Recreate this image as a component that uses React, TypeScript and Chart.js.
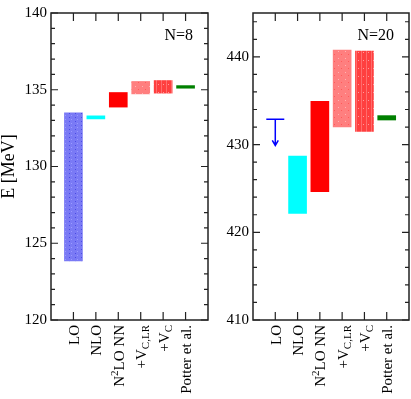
import React, { useEffect, useRef } from 'react';
import { Chart, registerables } from 'chart.js';

Chart.register(...registerables);

const FAMILY = '"Liberation Serif", "Times New Roman", "DejaVu Serif", serif';

// categories (x)
const categories = ['LO', 'NLO', 'N2LO NN', '+VC,LR', '+VC', 'Potter et al.'];
// rich text pieces for the rotated category labels
const labelParts: { t: string; sup?: boolean; sub?: boolean }[][] = [
  [{ t: 'LO' }],
  [{ t: 'NLO' }],
  [{ t: 'N' }, { t: '2', sup: true }, { t: 'LO NN' }],
  [{ t: '+V' }, { t: 'C,LR', sub: true }],
  [{ t: '+V' }, { t: 'C', sub: true }],
  [{ t: 'Potter et al.' }],
];

// N=8 panel (MeV)
const n8Low = [123.85, 133.1, 133.87, 134.73, 134.78, 135.1];
const n8High = [133.5, 133.3, 134.82, 135.54, 135.6, 135.27];
const n8Ticks = [120, 125, 130, 135, 140];

// N=20 panel (MeV)
const n20Low = [null, 422.15, 424.63, 432.0, 431.5, 432.8];
const n20High = [null, 428.7, 434.93, 440.76, 440.65, 433.3];
const n20LoUpperLimit = 432.9;
const n20LoArrowTip = 429.9;
const n20Ticks = [410, 420, 430, 440];

function makePattern(base: string, w: number, h: number, marks: [number, number, string, number?, number?][]) {
  const c = document.createElement('canvas');
  c.width = w;
  c.height = h;
  const g = c.getContext('2d')!;
  g.fillStyle = base;
  g.fillRect(0, 0, w, h);
  marks.forEach(([x, y, col, ww, hh]) => {
    g.fillStyle = col;
    g.fillRect(x, y, ww ?? 1, hh ?? 1);
  });
  return g.createPattern(c, 'repeat')!;
}

function barColors() {
  const blue = makePattern('#7a7af5', 6, 4, [
    [3, 1, '#4a4ae6'],
    [5, 3, '#9a9aff'],
  ]);
  const lightRed = makePattern('#ff7f7f', 7, 7, [
    [2, 2, '#ffb4b4'],
    [5, 5, '#ff5a5a'],
  ]);
  const stripeRed = makePattern('#ff3f3f', 5, 8, [
    [1, 0, '#ff6c6c', 1, 8],
    [3, 4, '#ff9a9a'],
  ]);
  return [blue, '#00ffff', '#ff0000', lightRed, stripeRed, '#008000'];
}

type PanelCfg = {
  low: (number | null)[];
  high: (number | null)[];
  min: number;
  max: number;
  majors: number[];
  minorStep: number;
  yWidth: number;
  label: string;
  title?: string;
  arrow?: { limit: number; tip: number };
};

function makeDecor(cfg: PanelCfg) {
  return {
    id: 'decor',
    afterDatasetsDraw(chart: any) {
      if (!cfg.arrow) return;
      const { ctx, scales } = chart;
      const x = scales.x.getPixelForValue(1);
      const y0 = scales.y.getPixelForValue(cfg.arrow.limit);
      const y1 = scales.y.getPixelForValue(cfg.arrow.tip);
      ctx.save();
      ctx.strokeStyle = '#0000ff';
      ctx.lineWidth = 1.5;
      ctx.beginPath();
      ctx.moveTo(x - 9, y0);
      ctx.lineTo(x + 9, y0);
      ctx.moveTo(x, y0);
      ctx.lineTo(x, y1);
      ctx.moveTo(x - 3, y1 - 5);
      ctx.lineTo(x, y1);
      ctx.lineTo(x + 3, y1 - 5);
      ctx.stroke();
      ctx.restore();
    },
    afterDraw(chart: any) {
      const { ctx, chartArea: a, scales } = chart;
      const xs = scales.x;
      const ys = scales.y;
      ctx.save();
      // frame
      ctx.strokeStyle = '#222';
      ctx.lineWidth = 1.5;
      ctx.strokeRect(a.left, a.top, a.right - a.left, a.bottom - a.top);
      // ticks
      ctx.lineWidth = 1.2;
      ctx.beginPath();
      const n = Math.floor((cfg.max - cfg.min) / cfg.minorStep + 1e-9);
      for (let k = 0; k <= n; k++) {
        const v = cfg.min + k * cfg.minorStep;
        const y = ys.getPixelForValue(v);
        const L = cfg.majors.includes(v) ? 7 : 4;
        ctx.moveTo(a.left, y);
        ctx.lineTo(a.left + L, y);
        ctx.moveTo(a.right, y);
        ctx.lineTo(a.right - L, y);
      }
      categories.forEach((_, i) => {
        const x = xs.getPixelForValue(i + 1);
        ctx.moveTo(x, a.bottom);
        ctx.lineTo(x, a.bottom - 8);
        ctx.moveTo(x, a.top);
        ctx.lineTo(x, a.top + 8);
      });
      ctx.stroke();

      // category labels (rotated)
      ctx.fillStyle = '#000';
      labelParts.forEach((parts, i) => {
        const x = xs.getPixelForValue(i + 1);
        ctx.save();
        ctx.translate(x, a.bottom + 5);
        ctx.rotate(-Math.PI / 2);
        let total = 0;
        const widths = parts.map((p) => {
          ctx.font = `${p.sub || p.sup ? 11 : 15}px ${FAMILY}`;
          const w = ctx.measureText(p.t).width;
          total += w;
          return w;
        });
        let cx = -total;
        ctx.textAlign = 'left';
        ctx.textBaseline = 'alphabetic';
        parts.forEach((p, j) => {
          ctx.font = `${p.sub || p.sup ? 11 : 15}px ${FAMILY}`;
          const dy = p.sup ? -6 : p.sub ? 3 : 0;
          ctx.fillText(p.t, cx, 5.5 + dy);
          cx += widths[j];
        });
        ctx.restore();
      });

      // panel label
      ctx.font = `16px ${FAMILY}`;
      ctx.textAlign = 'right';
      ctx.textBaseline = 'alphabetic';
      ctx.fillText(cfg.label, a.right - 15, a.top + 27);

      // y title
      if (cfg.title) {
        ctx.save();
        ctx.translate(9, (a.top + a.bottom) / 2);
        ctx.rotate(-Math.PI / 2);
        ctx.font = `18px ${FAMILY}`;
        ctx.textAlign = 'center';
        ctx.textBaseline = 'middle';
        ctx.fillText(cfg.title, 0, 0);
        ctx.restore();
      }
      ctx.restore();
    },
  };
}

function Panel({ cfg, left, width }: { cfg: PanelCfg; left: number; width: number }) {
  const ref = useRef<HTMLCanvasElement>(null);
  useEffect(() => {
    const colors = barColors();
    const data: any[] = [];
    const bg: any[] = [];
    categories.forEach((_, i) => {
      const lo = cfg.low[i];
      const hi = cfg.high[i];
      if (lo == null || hi == null) return;
      data.push({ x: i + 1, y: [lo, hi] });
      bg.push(colors[i]);
    });
    const chart = new Chart(ref.current!, {
      type: 'bar',
      data: {
        datasets: [
          {
            data,
            backgroundColor: bg,
            borderWidth: 0,
            barThickness: 18,
          } as any,
        ],
      },
      options: {
        animation: false,
        responsive: false,
        layout: { padding: { top: 6, right: 2, left: 0, bottom: 0 } },
        plugins: { legend: { display: false }, tooltip: { enabled: false } },
        scales: {
          x: {
            type: 'linear',
            min: 0,
            max: 7,
            offset: false,
            grid: { display: false, drawTicks: false },
            border: { display: false },
            ticks: { display: false },
            afterFit: (s: any) => {
              s.height = 79;
            },
          },
          y: {
            type: 'linear',
            min: cfg.min,
            max: cfg.max,
            grid: { display: false, drawTicks: false },
            border: { display: false },
            ticks: { color: '#000', padding: 4, font: { size: 15, family: FAMILY } },
            afterBuildTicks: (s: any) => {
              s.ticks = cfg.majors.map((v) => ({ value: v }));
            },
            afterFit: (s: any) => {
              s.width = cfg.yWidth;
            },
          },
        } as any,
      },
      plugins: [makeDecor(cfg)],
    });
    return () => chart.destroy();
  }, []);
  return (
    <canvas
      ref={ref}
      width={width}
      height={399}
      style={{ position: 'absolute', left, top: 0, width, height: 399, display: 'block' }}
    />
  );
}

const leftCfg: PanelCfg = {
  low: n8Low,
  high: n8High,
  min: 120,
  max: 140,
  majors: n8Ticks,
  minorStep: 1,
  yWidth: 51,
  label: 'N=8',
  title: 'E [MeV]',
};

const rightCfg: PanelCfg = {
  low: n20Low,
  high: n20High,
  min: 410,
  max: 445,
  majors: n20Ticks,
  minorStep: 2,
  yWidth: 43,
  label: 'N=20',
  arrow: { limit: n20LoUpperLimit, tip: n20LoArrowTip },
};

export default function App() {
  return (
    <div style={{ position: 'fixed', left: 0, top: 0, width: 411, height: 399, background: '#fff' }}>
      <Panel cfg={leftCfg} left={0} width={210} />
      <Panel cfg={rightCfg} left={210} width={201} />
    </div>
  );
}
